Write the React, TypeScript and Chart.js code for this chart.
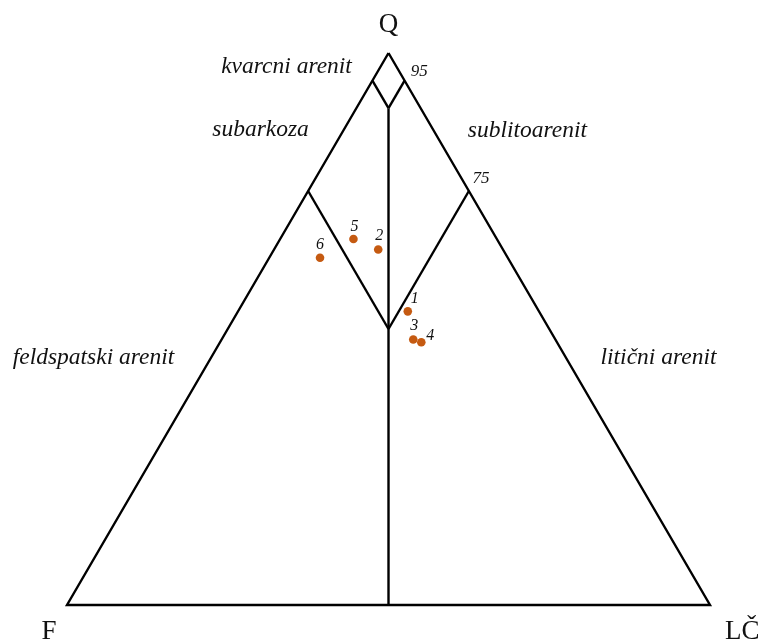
import React, { useEffect, useRef } from "react";
import { Chart, registerables } from "chart.js";

Chart.register(...registerables);

// Sample composition (percent): Q = quartz, F = feldspar, LČ = lithic fragments
const sampleLabels = ["1", "2", "3", "4", "5", "6"];
const sampleQ = [53.2, 64.4, 48.1, 47.6, 66.3, 62.9];
const sampleF = [20.4, 19.4, 22.1, 21.1, 22.3, 29.2];
const sampleL = [26.4, 16.2, 29.8, 31.3, 11.4, 7.9];

// Field boundaries in ternary percent [Q, F, L]
const triangleOutline: number[][] = [[100, 0, 0], [0, 100, 0], [0, 0, 100], [100, 0, 0]];
const centerLine: number[][] = [[90, 5, 5], [0, 50, 50]];
const line95Left: number[][] = [[95, 5, 0], [90, 5, 5]];
const line95Right: number[][] = [[95, 0, 5], [90, 5, 5]];
const line75Left: number[][] = [[75, 25, 0], [50, 25, 25]];
const line75Right: number[][] = [[75, 0, 25], [50, 25, 25]];

const toXY = (q: number, f: number, l: number) => ({ x: l / 100 + q / 200, y: q / 100 });

type Ann = { text: string; x: number; y: number; size: number; italic: boolean };
const annotations: Ann[] = [
  { text: "Q", x: 0.5, y: 1.05, size: 27, italic: false },
  { text: "F", x: -0.028, y: -0.049, size: 27, italic: false },
  { text: "LČ", x: 1.05, y: -0.049, size: 27, italic: false },
  { text: "kvarcni arenit", x: 0.3414, y: 0.9746, size: 23.5, italic: true },
  { text: "95", x: 0.548, y: 0.9656, size: 17, italic: true },
  { text: "subarkoza", x: 0.301, y: 0.8605, size: 23.5, italic: true },
  { text: "sublitoarenit", x: 0.716, y: 0.8587, size: 23.5, italic: true },
  { text: "75", x: 0.6439, y: 0.7717, size: 17, italic: true },
  { text: "feldspatski arenit", x: 0.0412, y: 0.4475, size: 23.5, italic: true },
  { text: "litični arenit", x: 0.9199, y: 0.4475, size: 23.5, italic: true },
];
const pointLabelOffsets = [[7, -13], [1, -14], [1, -14], [9, -6], [1, -12], [0, -13]];

const FONT = '"Liberation Serif", "Times New Roman", serif';

const labelPlugin = {
  id: "ternaryLabels",
  afterDatasetsDraw(chart: any) {
    const { ctx, scales } = chart;
    const xs = scales.x;
    const ys = scales.y;
    ctx.save();
    ctx.textAlign = "center";
    ctx.textBaseline = "middle";
    ctx.fillStyle = "#111";
    annotations.forEach((a) => {
      ctx.font = `${a.italic ? "italic " : ""}${a.size}px ${FONT}`;
      ctx.fillText(a.text, xs.getPixelForValue(a.x), ys.getPixelForValue(a.y));
    });
    ctx.font = `italic 16px ${FONT}`;
    sampleLabels.forEach((lab, i) => {
      const p = toXY(sampleQ[i], sampleF[i], sampleL[i]);
      const [dx, dy] = pointLabelOffsets[i];
      ctx.fillText(lab, xs.getPixelForValue(p.x) + dx, ys.getPixelForValue(p.y) + dy);
    });
    ctx.restore();
  },
};

export default function App() {
  const ref = useRef<HTMLCanvasElement>(null);
  useEffect(() => {
    if (!ref.current) return;
    const lineDs = (pts: number[][]) => ({
      type: "line" as const,
      data: pts.map((p) => toXY(p[0], p[1], p[2])),
      borderColor: "#000",
      borderWidth: 2.4,
      pointRadius: 0,
      showLine: true,
      fill: false,
      tension: 0,
      borderJoinStyle: "miter" as const,
      borderCapStyle: "butt" as const,
    });
    const chart = new Chart(ref.current, {
      type: "scatter",
      data: {
        datasets: [
          lineDs(triangleOutline),
          lineDs(centerLine),
          lineDs(line95Left),
          lineDs(line95Right),
          lineDs(line75Left),
          lineDs(line75Right),
          {
            type: "scatter",
            data: sampleQ.map((q, i) => toXY(q, sampleF[i], sampleL[i])),
            backgroundColor: "#C55A11",
            borderColor: "#C55A11",
            borderWidth: 0,
            pointRadius: 4.3,
          },
        ] as any,
      },
      options: {
        animation: false,
        responsive: false,
        layout: { padding: 0, autoPadding: false },
        plugins: { legend: { display: false }, tooltip: { enabled: false } },
        scales: {
          x: { type: "linear", min: -0.1042, max: 1.0793, display: false },
          y: { type: "linear", min: -0.067, max: 1.096, display: false },
        },
      },
      plugins: [labelPlugin],
    });
    return () => chart.destroy();
  }, []);
  return (
    <div style={{ position: "absolute", left: 0, top: 0, width: 761, height: 642, background: "#fff" }}>
      <canvas ref={ref} width={761} height={642} />
    </div>
  );
}
